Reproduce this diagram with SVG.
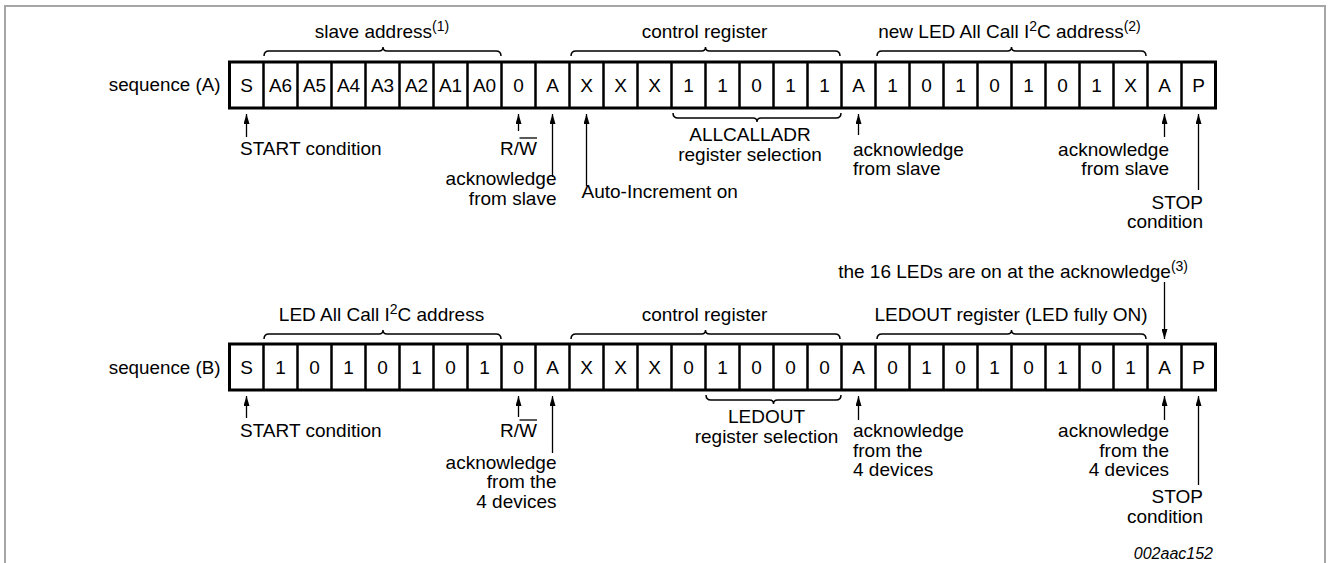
<svg xmlns="http://www.w3.org/2000/svg" width="1328" height="563" viewBox="0 0 1328 563">
<style>
text{font-family:"Liberation Sans",Arial,Helvetica,sans-serif;font-size:19px;fill:#000}
.cell{text-anchor:middle}
.seq{text-anchor:end;font-size:18.8px}
.mid{text-anchor:middle}
.end{text-anchor:end}
.sup{font-size:14px}
.box{fill:#fff;stroke:#000;stroke-width:3}
.div{fill:none;stroke:#000;stroke-width:2.5}
.brace{fill:none;stroke:#000;stroke-width:1.5}
.arr{fill:none;stroke:#000;stroke-width:1.3;marker-end:url(#ah)}
.frame{fill:none;stroke:#a6a6a6;stroke-width:2}
.id{font-style:italic;font-size:16px;text-anchor:end}
</style>
<defs>
<marker id="ah" markerUnits="userSpaceOnUse" viewBox="0 0 10 6" refX="10" refY="3" markerWidth="10" markerHeight="6" orient="auto">
<path d="M0,0 L10,3 L0,6 z" fill="#000"/>
</marker>
</defs>
<rect width="1328" height="563" fill="#fff"/>
<path class="frame" d="M5,563 L5,6 L1325,6 L1325,563"/>

<g id="sequenceA">
<text class="seq" x="220.5" y="91">sequence (A)</text>
<rect class="box" x="229.5" y="62" width="986" height="46"/>
<path class="div" d="M263.5,62V108M297.5,62V108M331.5,62V108M365.5,62V108M399.5,62V108M433.5,62V108M467.5,62V108M501.5,62V108M535.5,62V108M569.5,62V108M603.5,62V108M637.5,62V108M671.5,62V108M705.5,62V108M739.5,62V108M773.5,62V108M807.5,62V108M841.5,62V108M875.5,62V108M909.5,62V108M943.5,62V108M977.5,62V108M1011.5,62V108M1045.5,62V108M1079.5,62V108M1113.5,62V108M1147.5,62V108M1181.5,62V108"/>
<text class="cell" y="92"><tspan x="246.5">S</tspan><tspan x="280.5">A6</tspan><tspan x="314.5">A5</tspan><tspan x="348.5">A4</tspan><tspan x="382.5">A3</tspan><tspan x="416.5">A2</tspan><tspan x="450.5">A1</tspan><tspan x="484.5">A0</tspan><tspan x="518.5">0</tspan><tspan x="552.5">A</tspan><tspan x="586.5">X</tspan><tspan x="620.5">X</tspan><tspan x="654.5">X</tspan><tspan x="688.5">1</tspan><tspan x="722.5">1</tspan><tspan x="756.5">0</tspan><tspan x="790.5">1</tspan><tspan x="824.5">1</tspan><tspan x="858.5">A</tspan><tspan x="892.5">1</tspan><tspan x="926.5">0</tspan><tspan x="960.5">1</tspan><tspan x="994.5">0</tspan><tspan x="1028.5">1</tspan><tspan x="1062.5">0</tspan><tspan x="1096.5">1</tspan><tspan x="1130.5">X</tspan><tspan x="1164.5">A</tspan><tspan x="1198.5">P</tspan></text>
</g>

<g id="sequenceB">
<text class="seq" x="220.5" y="373.5">sequence (B)</text>
<rect class="box" x="229.5" y="344" width="986" height="46"/>
<path class="div" d="M263.5,344V390M297.5,344V390M331.5,344V390M365.5,344V390M399.5,344V390M433.5,344V390M467.5,344V390M501.5,344V390M535.5,344V390M569.5,344V390M603.5,344V390M637.5,344V390M671.5,344V390M705.5,344V390M739.5,344V390M773.5,344V390M807.5,344V390M841.5,344V390M875.5,344V390M909.5,344V390M943.5,344V390M977.5,344V390M1011.5,344V390M1045.5,344V390M1079.5,344V390M1113.5,344V390M1147.5,344V390M1181.5,344V390"/>
<text class="cell" y="374"><tspan x="246.5">S</tspan><tspan x="280.5">1</tspan><tspan x="314.5">0</tspan><tspan x="348.5">1</tspan><tspan x="382.5">0</tspan><tspan x="416.5">1</tspan><tspan x="450.5">0</tspan><tspan x="484.5">1</tspan><tspan x="518.5">0</tspan><tspan x="552.5">A</tspan><tspan x="586.5">X</tspan><tspan x="620.5">X</tspan><tspan x="654.5">X</tspan><tspan x="688.5">0</tspan><tspan x="722.5">1</tspan><tspan x="756.5">0</tspan><tspan x="790.5">0</tspan><tspan x="824.5">0</tspan><tspan x="858.5">A</tspan><tspan x="892.5">0</tspan><tspan x="926.5">1</tspan><tspan x="960.5">0</tspan><tspan x="994.5">1</tspan><tspan x="1028.5">0</tspan><tspan x="1062.5">1</tspan><tspan x="1096.5">0</tspan><tspan x="1130.5">1</tspan><tspan x="1164.5">A</tspan><tspan x="1198.5">P</tspan></text>
</g>

<g id="braces">
<path class="brace" d="M264,56 Q264,51 269,51 L379,51 Q383,51 383,47 Q383,51 387,51 L496,51 Q501,51 501,56"/>
<path class="brace" d="M571,56 Q571,51 576,51 L701.5,51 Q705.5,51 705.5,47 Q705.5,51 709.5,51 L835,51 Q840,51 840,56"/>
<path class="brace" d="M877,56 Q877,51 882,51 L1007.5,51 Q1011.5,51 1011.5,47 Q1011.5,51 1015.5,51 L1141,51 Q1146,51 1146,56"/>
<path class="brace" d="M673,113 Q673,118 678,118 L753,118 Q757,118 757,122 Q757,118 761,118 L836,118 Q841,118 841,113"/>
<path class="brace" d="M264,339 Q264,334 269,334 L379,334 Q383,334 383,330 Q383,334 387,334 L496,334 Q501,334 501,339"/>
<path class="brace" d="M571,339 Q571,334 576,334 L701.5,334 Q705.5,334 705.5,330 Q705.5,334 709.5,334 L835,334 Q840,334 840,339"/>
<path class="brace" d="M877,339 Q877,334 882,334 L1007.5,334 Q1011.5,334 1011.5,330 Q1011.5,334 1015.5,334 L1141,334 Q1146,334 1146,339"/>
<path class="brace" d="M706,395 Q706,400 711,400 L769.5,400 Q773.5,400 773.5,404 Q773.5,400 777.5,400 L836,400 Q841,400 841,395"/>
</g>

<g id="connectors">
<line class="arr" x1="246.5" y1="137" x2="246.5" y2="114"/>
<line class="arr" x1="518.5" y1="131" x2="518.5" y2="114"/>
<line class="arr" x1="552.5" y1="177" x2="552.5" y2="114"/>
<line class="arr" x1="586.5" y1="186" x2="586.5" y2="114"/>
<line class="arr" x1="858.5" y1="135" x2="858.5" y2="114"/>
<line class="arr" x1="1164.5" y1="137" x2="1164.5" y2="114"/>
<line class="arr" x1="1198.5" y1="190" x2="1198.5" y2="114"/>
<line class="arr" x1="246.5" y1="418" x2="246.5" y2="396"/>
<line class="arr" x1="518.5" y1="417" x2="518.5" y2="396"/>
<line class="arr" x1="552.5" y1="453" x2="552.5" y2="396"/>
<line class="arr" x1="858.5" y1="420" x2="858.5" y2="396"/>
<line class="arr" x1="1164.5" y1="420" x2="1164.5" y2="396"/>
<line class="arr" x1="1198.5" y1="485" x2="1198.5" y2="396"/>
<line class="arr" x1="1164.5" y1="282" x2="1164.5" y2="339"/>
</g>

<g id="labelsA">
<text class="mid" x="382" y="37.5">slave address<tspan class="sup" dy="-7">(1)</tspan></text>
<text class="mid" x="704.5" y="37.5">control register</text>
<text class="mid" x="1009.5" y="37.5">new LED All Call I<tspan class="sup" dy="-7">2</tspan><tspan dy="7">C address</tspan><tspan class="sup" dy="-7">(2)</tspan></text>
<text x="240" y="155">START condition</text>
<text class="mid" x="518.5" y="155">R/W</text>
<line x1="519.5" y1="138" x2="537" y2="138" stroke="#000" stroke-width="1.3"/>
<text class="end" x="556.5" y="185">acknowledge</text>
<text class="end" x="556.5" y="205">from slave</text>
<text x="581.5" y="198">Auto-Increment on</text>
<text class="mid" x="750" y="141">ALLCALLADR</text>
<text class="mid" x="750" y="161">register selection</text>
<text x="853" y="155.5">acknowledge</text>
<text x="853" y="175">from slave</text>
<text class="end" x="1169" y="155.5">acknowledge</text>
<text class="end" x="1169" y="175">from slave</text>
<text class="end" x="1203" y="208.5">STOP</text>
<text class="end" x="1203" y="228">condition</text>
</g>

<g id="labelsB">
<text class="end" x="1188" y="278">the 16 LEDs are on at the acknowledge<tspan class="sup" dy="-7">(3)</tspan></text>
<text class="mid" x="381.5" y="321">LED All Call I<tspan class="sup" dy="-7">2</tspan><tspan dy="7">C address</tspan></text>
<text class="mid" x="704.5" y="321">control register</text>
<text class="mid" x="1011" y="321">LEDOUT register (LED fully ON)</text>
<text x="240" y="437">START condition</text>
<text class="mid" x="518.5" y="437">R/W</text>
<line x1="519.5" y1="420" x2="537" y2="420" stroke="#000" stroke-width="1.3"/>
<text class="end" x="556.5" y="468.5">acknowledge</text>
<text class="end" x="556.5" y="488">from the</text>
<text class="end" x="556.5" y="507.5">4 devices</text>
<text class="mid" x="766.5" y="423">LEDOUT</text>
<text class="mid" x="766.5" y="443">register selection</text>
<text x="853" y="437">acknowledge</text>
<text x="853" y="456.5">from the</text>
<text x="853" y="476">4 devices</text>
<text class="end" x="1169" y="437">acknowledge</text>
<text class="end" x="1169" y="456.5">from the</text>
<text class="end" x="1169" y="476">4 devices</text>
<text class="end" x="1203" y="503">STOP</text>
<text class="end" x="1203" y="522.5">condition</text>
<text class="id" x="1213" y="559">002aac152</text>
</g>
</svg>
